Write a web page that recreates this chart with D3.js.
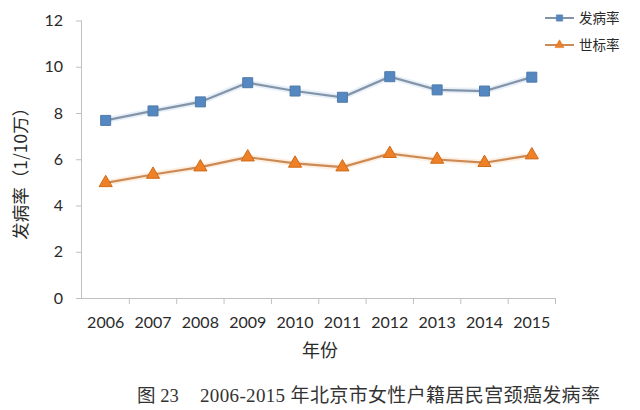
<!DOCTYPE html>
<html><head><meta charset="utf-8">
<script src="https://cdn.jsdelivr.net/npm/d3@7"></script>
<style>
body{margin:0;background:#fff;}
svg{display:block;}
</style></head>
<body>
<svg id="c" width="640" height="410"></svg>
<script>
const years = ["2006","2007","2008","2009","2010","2011","2012","2013","2014","2015"];
const incidence = [7.68, 8.09, 8.48, 9.31, 8.95, 8.68, 9.57, 9.00, 8.95, 9.55];
const standardized = [4.98, 5.34, 5.66, 6.09, 5.82, 5.66, 6.24, 5.99, 5.85, 6.18];
const yTicks = [0, 2, 4, 6, 8, 10, 12];
const seriesNames = ["发病率", "世标率"];
const yTitle = "发病率（1/10万）";
const xTitle = "年份";
const caption1 = "图 23";
const caption2 = "2006-2015 年北京市女性户籍居民宫颈癌发病率";

const svg = d3.select("#c");
const L = 82, R = 555.5, T = 20.5, B = 298;
const x = d3.scaleBand().domain(years).range([L, R]);
const y = d3.scaleLinear().domain([0, 12]).range([B, T]);
const latin = "Lato, 'Noto Sans CJK SC', sans-serif";
const cjk = "'Noto Sans CJK SC', sans-serif";

// y axis
const yAxis = svg.append("g").attr("transform", `translate(${L},0)`)
  .call(d3.axisLeft(y).tickValues(yTicks).tickSize(6).tickPadding(13).tickFormat(d3.format("d")));
yAxis.select(".domain").attr("stroke", "#c0c0c0").attr("d", `M-0.5,${B}V${T}`);
yAxis.selectAll(".tick line").attr("stroke", "#c0c0c0");
yAxis.selectAll(".tick text").attr("fill", "#2a2a2a").style("font-family", latin).style("font-size", "16px");

// x axis
const xAxis = svg.append("g").attr("transform", `translate(0,${B})`)
  .call(d3.axisBottom(x).tickSize(0).tickPadding(19));
xAxis.select(".domain").attr("stroke", "#c0c0c0").attr("d", `M${L-6},0.5H${R}`);
xAxis.selectAll(".tick text").attr("fill", "#2a2a2a").style("font-family", latin).style("font-size", "16px");
// category boundary ticks
const bounds = years.map(d => x(d) + x.bandwidth());
svg.append("g").selectAll("line").data(bounds).join("line")
  .attr("x1", d => d).attr("x2", d => d).attr("y1", B).attr("y2", B + 6)
  .attr("stroke", "#c0c0c0");

// titles
svg.append("text").attr("transform", `translate(27,${(T+B)/2+10}) rotate(-90)`)
  .attr("text-anchor", "middle").attr("fill", "#2a2a2a")
  .style("font-family", cjk).style("font-size", "17.5px").text(yTitle);
svg.append("text").attr("x", 320).attr("y", 357).attr("text-anchor", "middle")
  .attr("fill", "#2a2a2a").style("font-family", cjk).style("font-size", "18px").text(xTitle);

// caption
svg.append("text").attr("x", 137).attr("y", 402).attr("fill", "#333")
  .style("font-family", "'Liberation Serif', 'Noto Sans CJK SC', serif").style("font-size", "18.5px").text(caption1);
svg.append("text").attr("x", 200).attr("y", 402).attr("fill", "#333")
  .attr("textLength", 400).attr("lengthAdjust", "spacing")
  .style("font-family", "'Liberation Serif', 'Noto Sans CJK SC', serif").style("font-size", "19px").text(caption2);

const cx = d => x(d) + x.bandwidth() / 2;
const line = d3.line().x((d, i) => cx(years[i])).y(d => y(d));

const blueLine = "#8494a8", blueFill = "#5588c0", blueStroke = "#4f7aa8";
const orLine = "#cc8a55", orFill = "#ee8028", orStroke = "#d06c18";

// glow
svg.append("path").datum(incidence).attr("d", line).attr("fill", "none")
  .attr("stroke", "#d4e4f4").attr("stroke-width", 6).attr("opacity", 0.55);
svg.append("path").datum(standardized).attr("d", line).attr("fill", "none")
  .attr("stroke", "#fbe3cc").attr("stroke-width", 6).attr("opacity", 0.55);

svg.append("path").datum(incidence).attr("d", line).attr("fill", "none")
  .attr("stroke", blueLine).attr("stroke-width", 2.2);
svg.append("path").datum(standardized).attr("d", line).attr("fill", "none")
  .attr("stroke", orLine).attr("stroke-width", 2.2);

const sq = d3.symbol().type(d3.symbolSquare).size(100);
const tri = d3.symbol().type(d3.symbolTriangle).size(75);
svg.append("g").selectAll("path").data(incidence).join("path")
  .attr("d", sq).attr("transform", (d, i) => `translate(${cx(years[i])},${y(d)})`)
  .attr("fill", blueFill).attr("stroke", blueStroke).attr("stroke-width", 1);
svg.append("g").selectAll("path").data(standardized).join("path")
  .attr("d", tri).attr("transform", (d, i) => `translate(${cx(years[i])},${y(d)})`)
  .attr("fill", orFill).attr("stroke", orStroke).attr("stroke-width", 1);

// legend
const leg = [{name: seriesNames[0], ly: 18, c: blueLine, t: d3.symbolSquare, sz: 40, f: blueFill, s: blueStroke},
             {name: seriesNames[1], ly: 45, c: orLine, t: d3.symbolTriangle, sz: 35, f: orFill, s: orStroke}];
const lg = svg.append("g").selectAll("g").data(leg).join("g");
lg.append("line").attr("x1", 545).attr("x2", 574).attr("y1", d => d.ly).attr("y2", d => d.ly)
  .attr("stroke", d => d.c).attr("stroke-width", 2);
lg.append("path").attr("d", d => d3.symbol().type(d.t).size(d.sz)())
  .attr("transform", d => `translate(559.5,${d.ly})`).attr("fill", d => d.f).attr("stroke", d => d.s).attr("stroke-width", 0.5);
lg.append("text").attr("x", 579).attr("y", d => d.ly + 5).attr("fill", "#2a2a2a")
  .style("font-family", cjk).style("font-size", "13.5px").text(d => d.name);
</script>
</body></html>
